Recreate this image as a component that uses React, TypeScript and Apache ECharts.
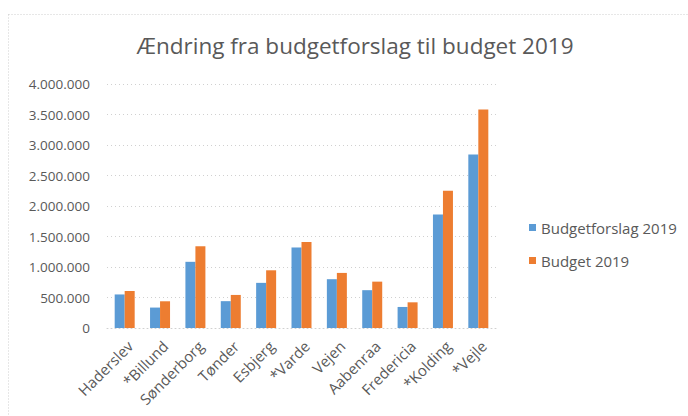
import React, { useEffect, useRef } from "react";
import * as echarts from "echarts";

const categories = ["Haderslev", "*Billund", "Sønderborg", "Tønder", "Esbjerg", "*Varde", "Vejen", "Aabenraa", "Fredericia", "*Kolding", "*Vejle"];
const budgetforslag2019 = [550000, 335000, 1085000, 440000, 740000, 1320000, 800000, 620000, 345000, 1860000, 2845000];
const budget2019 = [607000, 438000, 1340000, 542000, 946000, 1411000, 903000, 760000, 421000, 2248000, 3583000];
const seriesNames = ["Budgetforslag 2019", "Budget 2019"];
const yMax = 4000000;
const yInterval = 500000;

const fmt = (v: number) => String(v).replace(/\B(?=(\d{3})+(?!\d))/g, ".");

export default function App() {
  const ref = useRef<HTMLDivElement>(null);
  useEffect(() => {
    const chart = echarts.init(ref.current!, null, { renderer: "svg" });
    const font = "'Open Sans', sans-serif";
    chart.setOption({
      animation: false,
      backgroundColor: "#ffffff",
      textStyle: { fontFamily: font },
      title: {
        text: "Ændring fra budgetforslag til budget 2019",
        left: 350,
        textAlign: "center",
        top: 29,
        textStyle: { fontFamily: font, fontSize: 22.5, fontWeight: "normal", color: "#595959" },
      },
      graphic: [
        {
          type: "rect",
          shape: { x: 8.5, y: 14.5, width: 720, height: 440 },
          style: { fill: "none", stroke: "#cfcfcf", lineWidth: 1, lineDash: [1, 2] },
          silent: true,
        },
      ],
      legend: {
        orient: "vertical",
        left: 524,
        top: 215,
        itemWidth: 7,
        itemHeight: 7,
        itemGap: 18,
        icon: "rect",
        textStyle: { fontFamily: font, fontSize: 15, color: "#595959", padding: [0, 0, 0, 0] },
        data: seriesNames,
      },
      grid: { left: 107, right: 192, top: 84, bottom: 88, containLabel: false },
      xAxis: {
        type: "category",
        data: categories,
        axisLine: { show: true, lineStyle: { color: "#d0d0d0", type: [1, 3] } },
        axisTick: { show: false },
        axisLabel: { rotate: 45, interval: 0, fontFamily: font, fontSize: 15, color: "#595959", margin: 10, verticalAlign: "top" },
      },
      yAxis: {
        type: "value",
        min: 0,
        max: yMax,
        interval: yInterval,
        axisLine: { show: false },
        axisTick: { show: false },
        splitLine: { lineStyle: { color: "#d0d0d0", type: [1, 3] } },
        axisLabel: { formatter: (v: number) => fmt(v), fontFamily: font, fontSize: 13.5, color: "#595959", margin: 17 },
      },
      series: [
        {
          name: seriesNames[0],
          type: "bar",
          data: budgetforslag2019,
          barWidth: 10,
          barGap: "0%",
          itemStyle: { color: "#5B9BD5" },
        },
        {
          name: seriesNames[1],
          type: "bar",
          data: budget2019,
          barWidth: 10,
          barGap: "0%",
          itemStyle: { color: "#ED7D31" },
        },
      ],
    });
    return () => chart.dispose();
  }, []);
  return <div ref={ref} style={{ position: "absolute", left: 0, top: 0, width: 688, height: 416 }} />;
}
